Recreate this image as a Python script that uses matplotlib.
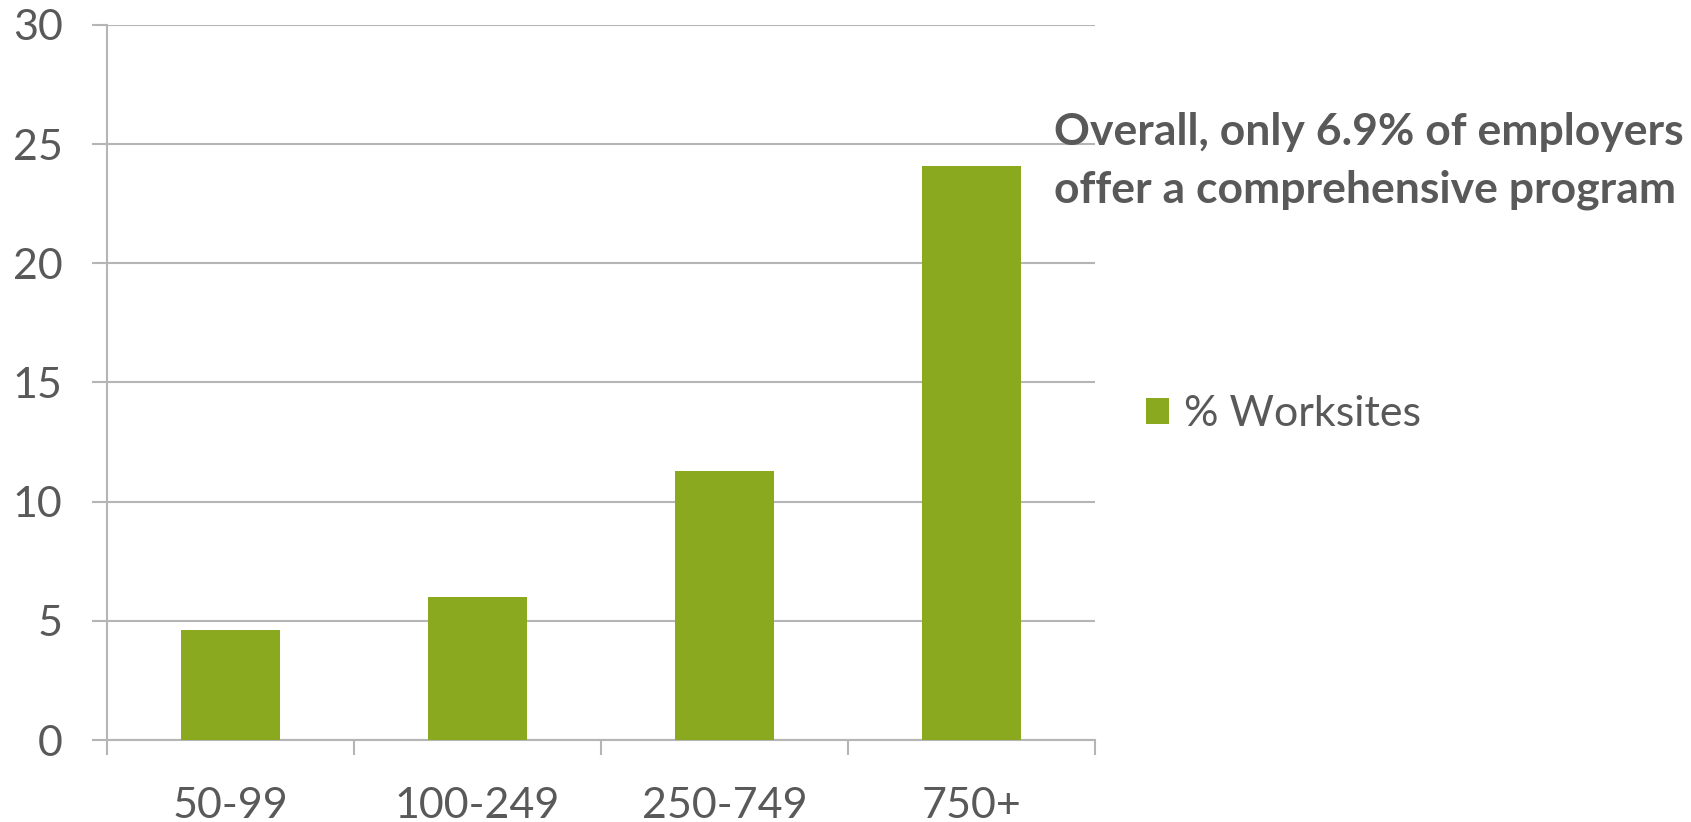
import matplotlib
matplotlib.use("Agg")
import matplotlib.pyplot as plt
from matplotlib.ticker import FixedLocator, NullFormatter

# Share of worksites offering a comprehensive program, by worksite size
categories = ["50-99", "100-249", "250-749", "750+"]
pct_worksites = [4.6, 6.0, 11.3, 24.1]
y_ticks = [0, 5, 10, 15, 20, 25, 30]
series_name = "% Worksites"
note_lines = ["Overall, only 6.9% of employers", "offer a comprehensive program"]

BAR = "#8BA91F"
TEXT = "#595959"
GRID = "#B5B5B5"
FONT = "Lato"

W, H, DPI = 1691, 822, 100
fig = plt.figure(figsize=(W / DPI, H / DPI), dpi=DPI)
ax = fig.add_axes([107 / W, 1 - 740 / H, (1095 - 107) / W, (740 - 25) / H])

x = list(range(len(categories)))
ax.bar(x, pct_worksites, width=0.4, color=BAR, zorder=3, label=series_name)

ax.set_xlim(-0.5, len(categories) - 0.5)
ax.set_ylim(0, 30)

# y axis: gridlines with outward tick stubs
ax.set_yticks(y_ticks)
ax.set_yticklabels([str(v) for v in y_ticks], fontsize=31, color=TEXT, family=FONT)
ax.yaxis.grid(True, color=GRID, linewidth=1.5, zorder=0)
ax.tick_params(axis="y", length=11, width=1.5, color=GRID, pad=21)

# x axis: tick marks between categories, labels centered under bars
ax.xaxis.set_major_locator(FixedLocator([i - 0.5 for i in range(len(categories) + 1)]))
ax.xaxis.set_major_formatter(NullFormatter())
ax.xaxis.set_minor_locator(FixedLocator(x))
ax.set_xticklabels(categories, minor=True, fontsize=31, color=TEXT, family=FONT)
ax.tick_params(axis="x", which="major", length=11, width=1.5, color=GRID)
ax.tick_params(axis="x", which="minor", length=0, pad=34)

for side in ("top", "right"):
    ax.spines[side].set_visible(False)
for side in ("left", "bottom"):
    ax.spines[side].set_color(GRID)
    ax.spines[side].set_linewidth(1.5)

leg = ax.legend(loc="center left", bbox_to_anchor=(1124 / W, 1 - 414 / H),
                bbox_transform=fig.transFigure, frameon=False,
                prop={"family": FONT, "size": 31}, handlelength=0.55,
                handleheight=0.55, handletextpad=0.35, borderpad=0)
for t in leg.get_texts():
    t.set_color(TEXT)

fig.text(1054 / W, 1 - 132 / H, note_lines[0], ha="left", va="center",
         fontsize=32, fontweight="bold", color=TEXT, family=FONT)
fig.text(1054 / W, 1 - 190 / H, note_lines[1], ha="left", va="center",
         fontsize=32, fontweight="bold", color=TEXT, family=FONT)

fig.savefig("out.png", dpi=DPI, facecolor="white")
